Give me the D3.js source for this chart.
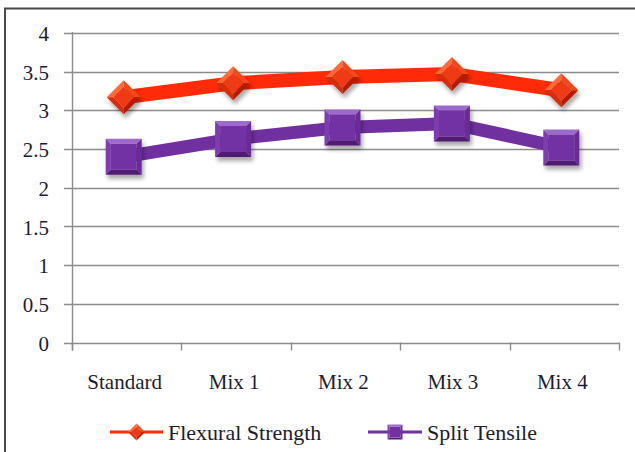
<!DOCTYPE html>
<html>
<head>
<meta charset="utf-8">
<script src="https://cdn.jsdelivr.net/npm/d3@7"></script>
<style>
  html, body { margin: 0; padding: 0; background: #fff; }
  svg { display: block; }
</style>
</head>
<body>
<svg id="chart" width="635" height="452"></svg>
<script>
// Strength results (MPa) per mix
const categories = ["Standard", "Mix 1", "Mix 2", "Mix 3", "Mix 4"];
const flexural = [3.17, 3.35, 3.43, 3.47, 3.26];
const splitTensile = [2.40, 2.63, 2.78, 2.83, 2.52];
const yTicks = [0, 0.5, 1, 1.5, 2, 2.5, 3, 3.5, 4];
const seriesNames = ["Flexural Strength", "Split Tensile"];

const FONT = "'Liberation Serif', 'DejaVu Serif', serif";
const INK = "#1c1c30";

const svg = d3.select("#chart");
const plot = { left: 72, right: 619, top: 33, bottom: 342.5 };

const x = d3.scaleBand().domain(categories).range([plot.left, plot.right]);
const y = d3.scaleLinear().domain([0, 4]).range([plot.bottom, plot.top]);
const cx = c => x(c) + x.bandwidth() / 2 - 3;

const defs = svg.append("defs");
const shadow = defs.append("filter").attr("id", "shadow")
  .attr("x", "-40%").attr("y", "-40%").attr("width", "180%").attr("height", "180%");
shadow.append("feDropShadow").attr("dx", 2).attr("dy", 4)
  .attr("stdDeviation", 2.2).attr("flood-color", "#000").attr("flood-opacity", 0.35);

// outer frame
svg.append("path").attr("d", "M5,452 V8.5 H635")
  .attr("fill", "none").attr("stroke", "#4a4a4a").attr("stroke-width", 2);

// horizontal gridlines with left tick stubs
svg.append("g").selectAll("line").data(yTicks).join("line")
  .attr("x1", 64).attr("x2", plot.right)
  .attr("y1", d => Math.round(y(d)) + 0.5).attr("y2", d => Math.round(y(d)) + 0.5)
  .attr("stroke", "#8c8c8c").attr("stroke-width", 1.4);

// y axis labels
const yAxis = d3.axisLeft(y).tickValues(yTicks).tickSize(0).tickPadding(0)
  .tickFormat(d => String(d));
const gy = svg.append("g").attr("transform", `translate(49,0)`).call(yAxis)
  .attr("font-family", null).attr("font-size", null);
gy.select(".domain").remove();
gy.selectAll("text").attr("dy", "0.36em")
  .style("font-family", FONT).style("font-size", "21px").attr("fill", INK);

// vertical axis line
svg.append("line").attr("x1", plot.left + 0.5).attr("x2", plot.left + 0.5)
  .attr("y1", plot.top - 1).attr("y2", plot.bottom + 8)
  .attr("stroke", "#8c8c8c").attr("stroke-width", 1.4);

// category axis: tick marks between bands
const bounds = categories.map(c => x(c)).concat([plot.right]);
svg.append("g").selectAll("line").data(bounds).join("line")
  .attr("x1", d => Math.round(d) + 0.5).attr("x2", d => Math.round(d) + 0.5)
  .attr("y1", plot.bottom).attr("y2", plot.bottom + 8)
  .attr("stroke", "#8c8c8c").attr("stroke-width", 1.4);

svg.append("g").selectAll("text").data(categories).join("text")
  .attr("x", d => x(d) + x.bandwidth() / 2 - 2).attr("y", 389)
  .attr("text-anchor", "middle")
  .style("font-family", FONT).style("font-size", "21px").attr("fill", INK)
  .text(d => d);

// marker drawing helpers
function diamond(g, r) {
  const pts = { t: [0, -r], r: [r, 0], b: [0, r], l: [-r, 0] };
  const k = 0.62;
  const ip = { t: [0, -r * k], r: [r * k, 0], b: [0, r * k], l: [-r * k, 0] };
  const facet = (a, b, fill) => g.append("polygon")
    .attr("points", [pts[a], pts[b], ip[b], ip[a]].map(p => p.join(",")).join(" "))
    .attr("fill", fill);
  facet("l", "t", "#ff6a3a");
  facet("t", "r", "#f24a1c");
  facet("r", "b", "#b41e06");
  facet("b", "l", "#d42e0c");
  g.append("polygon").attr("points", [ip.t, ip.r, ip.b, ip.l].map(p => p.join(",")).join(" "))
    .attr("fill", "#ee3a12");
}
function square(g, h) {
  const b = Math.max(2, h * 0.28);
  const o = [[-h, -h], [h, -h], [h, h], [-h, h]];
  const i = [[-h + b, -h + b], [h - b, -h + b], [h - b, h - b], [-h + b, h - b]];
  const fills = ["#9d69cc", "#6a2b98", "#4f1d72", "#7d3eb0"];
  for (let k = 0; k < 4; k++) {
    const n = (k + 1) % 4;
    g.append("polygon").attr("points", [o[k], o[n], i[n], i[k]].map(p => p.join(",")).join(" "))
      .attr("fill", fills[k]);
  }
  g.append("polygon").attr("points", i.map(p => p.join(",")).join(" ")).attr("fill", "#7231a3");
}

const series = [
  { name: seriesNames[0], values: flexural, color: "#ff2a08", width: 14, marker: "diamond" },
  { name: seriesNames[1], values: splitTensile, color: "#7030a0", width: 13, marker: "square" }
];

const line = d3.line().x(d => cx(d.c)).y(d => y(d.v));

series.forEach(s => {
  const pts = categories.map((c, i) => ({ c, v: s.values[i] }));
  svg.append("path").datum(pts).attr("d", line)
    .attr("fill", "none").attr("stroke", s.color).attr("stroke-width", s.width)
    .attr("stroke-linejoin", "round");
  pts.forEach(p => {
    const g = svg.append("g").attr("transform", `translate(${cx(p.c)},${y(p.v)})`)
      .attr("filter", "url(#shadow)");
    if (s.marker === "diamond") diamond(g, 17); else square(g, 18);
  });
});

// legend
const legend = [
  { s: series[0], x0: 110, x1: 163, tx: 168 },
  { s: series[1], x0: 368, x1: 422, tx: 427 }
];
legend.forEach(l => {
  const ly = 432;
  svg.append("line").attr("x1", l.x0).attr("x2", l.x1).attr("y1", ly).attr("y2", ly)
    .attr("stroke", l.s.color).attr("stroke-width", 3);
  const g = svg.append("g").attr("transform", `translate(${(l.x0 + l.x1) / 2},${ly})`);
  if (l.s.marker === "diamond") diamond(g, 8.5); else square(g, 7.5);
  svg.append("text").attr("x", l.tx).attr("y", ly + 7.5)
    .style("font-family", FONT).style("font-size", "22px").attr("fill", INK)
    .text(l.s.name);
});
</script>
</body>
</html>
